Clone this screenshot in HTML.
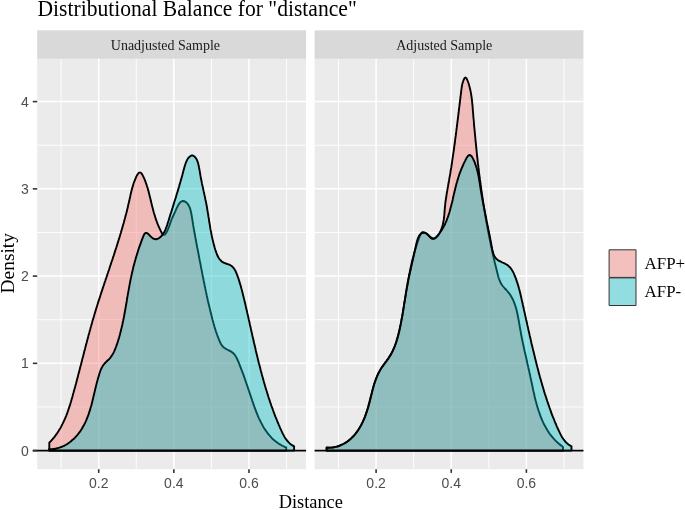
<!DOCTYPE html>
<html><head><meta charset="utf-8"><title>Distributional Balance for "distance"</title>
<style>
html,body{margin:0;padding:0;background:#fff}
svg{display:block}
text{font-family:"Liberation Serif",serif;fill:#000}
.ti{font-size:21.6px}
.st{font-size:14px;fill:#1a1a1a}
.ax{font-size:18.33px}
.lg{font-size:16.9px}
  .tk{font-family:"Liberation Sans",sans-serif;font-size:14px;fill:#4D4D4D}
</style></head><body>
<svg width="685" height="510" viewBox="0 0 685 510">
<rect width="685" height="510" fill="#fff"/>
<text transform="translate(37.5,16.4) scale(1,1.06)" class="ti">Distributional Balance for "distance"</text>
<rect x="37.20" y="58.85" width="268.85" height="410.35" fill="#EBEBEB"/>
<rect x="37.20" y="30.30" width="268.85" height="28.55" fill="#D9D9D9"/>
<line x1="37.20" x2="306.05" y1="406.98" y2="406.98" stroke="#fff" stroke-width="0.9"/>
<line x1="37.20" x2="306.05" y1="319.73" y2="319.73" stroke="#fff" stroke-width="0.9"/>
<line x1="37.20" x2="306.05" y1="232.48" y2="232.48" stroke="#fff" stroke-width="0.9"/>
<line x1="37.20" x2="306.05" y1="145.23" y2="145.23" stroke="#fff" stroke-width="0.9"/>
<line x1="61.13" x2="61.13" y1="58.85" y2="469.20" stroke="#fff" stroke-width="0.9"/>
<line x1="136.27" x2="136.27" y1="58.85" y2="469.20" stroke="#fff" stroke-width="0.9"/>
<line x1="211.41" x2="211.41" y1="58.85" y2="469.20" stroke="#fff" stroke-width="0.9"/>
<line x1="286.55" x2="286.55" y1="58.85" y2="469.20" stroke="#fff" stroke-width="0.9"/>
<line x1="37.20" x2="306.05" y1="450.60" y2="450.60" stroke="#fff" stroke-width="1.5"/>
<line x1="37.20" x2="306.05" y1="363.35" y2="363.35" stroke="#fff" stroke-width="1.5"/>
<line x1="37.20" x2="306.05" y1="276.10" y2="276.10" stroke="#fff" stroke-width="1.5"/>
<line x1="37.20" x2="306.05" y1="188.85" y2="188.85" stroke="#fff" stroke-width="1.5"/>
<line x1="37.20" x2="306.05" y1="101.60" y2="101.60" stroke="#fff" stroke-width="1.5"/>
<line x1="98.70" x2="98.70" y1="58.85" y2="469.20" stroke="#fff" stroke-width="1.5"/>
<line x1="98.70" x2="98.70" y1="469.20" y2="472.90" stroke="#333" stroke-width="1.6"/>
<text x="98.70" y="488.20" text-anchor="middle" class="tk">0.2</text>
<line x1="173.84" x2="173.84" y1="58.85" y2="469.20" stroke="#fff" stroke-width="1.5"/>
<line x1="173.84" x2="173.84" y1="469.20" y2="472.90" stroke="#333" stroke-width="1.6"/>
<text x="173.84" y="488.20" text-anchor="middle" class="tk">0.4</text>
<line x1="248.98" x2="248.98" y1="58.85" y2="469.20" stroke="#fff" stroke-width="1.5"/>
<line x1="248.98" x2="248.98" y1="469.20" y2="472.90" stroke="#333" stroke-width="1.6"/>
<text x="248.98" y="488.20" text-anchor="middle" class="tk">0.6</text>
<text x="110.8" y="49.7" class="st">Unadjusted Sample</text>
<path d="M49.3,450.6 L49.3,442.7 L50.5,441.5 L51.7,440.2 L52.8,438.9 L53.9,437.6 L54.9,436.3 L55.9,434.9 L56.9,433.6 L57.8,432.2 L58.7,430.8 L59.6,429.3 L60.5,427.9 L61.3,426.4 L62.0,424.9 L62.8,423.4 L63.5,421.9 L64.2,420.4 L64.9,418.9 L65.5,417.3 L66.2,415.8 L66.8,414.2 L67.4,412.6 L67.9,411.0 L68.5,409.4 L69.0,407.8 L69.6,406.2 L70.1,404.6 L70.6,403.0 L71.1,401.3 L71.5,399.7 L72.0,398.1 L72.5,396.4 L72.9,394.8 L73.4,393.1 L73.8,391.5 L74.3,389.9 L74.7,388.2 L75.2,386.6 L75.6,385.0 L76.1,383.3 L76.5,381.7 L76.9,380.0 L77.4,378.4 L77.8,376.8 L78.2,375.1 L78.6,373.5 L79.1,371.9 L79.5,370.2 L79.9,368.6 L80.3,366.9 L80.8,365.3 L81.2,363.7 L81.6,362.0 L82.0,360.4 L82.4,358.8 L82.9,357.1 L83.3,355.5 L83.7,353.9 L84.1,352.2 L84.5,350.6 L85.0,349.0 L85.4,347.3 L85.8,345.7 L86.2,344.1 L86.7,342.5 L87.1,340.8 L87.5,339.2 L88.0,337.6 L88.4,335.9 L88.8,334.3 L89.3,332.7 L89.7,331.1 L90.2,329.4 L90.6,327.8 L91.1,326.2 L91.5,324.6 L92.0,323.0 L92.4,321.3 L92.9,319.7 L93.4,318.1 L93.9,316.5 L94.3,314.9 L94.8,313.2 L95.3,311.6 L95.8,310.0 L96.3,308.4 L96.8,306.8 L97.3,305.2 L97.8,303.5 L98.3,301.9 L98.8,300.3 L99.4,298.7 L99.9,297.1 L100.4,295.5 L100.9,293.9 L101.4,292.3 L102.0,290.7 L102.5,289.1 L103.0,287.4 L103.6,285.8 L104.1,284.2 L104.6,282.6 L105.2,281.0 L105.7,279.4 L106.3,277.8 L106.8,276.2 L107.3,274.6 L107.9,273.0 L108.4,271.4 L109.0,269.8 L109.5,268.2 L110.0,266.5 L110.6,264.9 L111.1,263.3 L111.6,261.7 L112.2,260.1 L112.7,258.5 L113.2,256.9 L113.8,255.3 L114.3,253.7 L114.8,252.1 L115.3,250.5 L115.8,248.9 L116.4,247.2 L116.9,245.6 L117.4,244.0 L117.9,242.4 L118.4,240.8 L118.9,239.2 L119.4,237.6 L119.9,236.0 L120.4,234.3 L120.9,232.7 L121.3,231.1 L121.8,229.5 L122.3,227.9 L122.7,226.3 L123.2,224.6 L123.7,223.0 L124.1,221.4 L124.5,219.8 L125.0,218.2 L125.4,216.5 L125.8,214.9 L126.3,213.3 L126.7,211.7 L127.1,210.0 L127.5,208.4 L127.9,206.8 L128.2,205.1 L128.6,203.5 L129.0,201.9 L129.4,200.3 L129.7,198.6 L130.1,197.0 L130.4,195.3 L130.8,193.7 L131.2,192.0 L131.6,190.4 L132.0,188.7 L132.5,187.1 L133.0,185.4 L133.5,183.7 L134.1,182.0 L134.8,180.3 L135.5,178.6 L136.2,176.9 L137.0,175.3 L137.9,173.9 L138.8,172.9 L139.7,172.5 L140.6,172.6 L141.5,173.4 L142.3,174.6 L143.1,176.1 L143.9,177.9 L144.7,179.7 L145.4,181.4 L146.0,183.2 L146.6,184.9 L147.1,186.6 L147.7,188.3 L148.1,189.9 L148.6,191.5 L149.0,193.2 L149.4,194.8 L149.8,196.4 L150.2,198.0 L150.6,199.6 L150.9,201.1 L151.3,202.7 L151.7,204.3 L152.1,205.9 L152.5,207.5 L152.9,209.0 L153.3,210.6 L153.7,212.2 L154.2,213.8 L154.7,215.4 L155.2,217.1 L155.7,218.7 L156.3,220.3 L156.9,222.0 L157.5,223.6 L158.2,225.3 L158.9,227.0 L159.7,228.7 L160.5,230.4 L161.3,232.0 L162.1,233.5 L163.0,234.5 L163.9,234.9 L164.8,234.6 L165.7,233.6 L166.6,232.2 L167.4,230.5 L168.2,228.7 L168.9,226.9 L169.5,225.2 L170.1,223.6 L170.7,222.0 L171.2,220.4 L171.8,219.0 L172.4,217.6 L173.0,216.2 L173.7,214.9 L174.3,213.4 L175.1,211.8 L175.8,210.1 L176.7,208.2 L177.6,206.3 L178.5,204.6 L179.6,203.1 L180.7,201.9 L181.9,201.2 L183.2,201.0 L184.5,201.3 L185.8,202.1 L186.9,203.0 L187.8,204.1 L188.7,205.4 L189.4,206.8 L190.0,208.3 L190.5,210.0 L190.9,211.7 L191.3,213.4 L191.6,215.2 L191.9,217.0 L192.2,218.8 L192.5,220.6 L192.8,222.4 L193.0,224.2 L193.3,225.9 L193.6,227.6 L193.9,229.3 L194.2,231.0 L194.5,232.7 L194.8,234.3 L195.1,236.0 L195.4,237.6 L195.7,239.2 L196.0,240.9 L196.3,242.5 L196.6,244.1 L196.9,245.7 L197.2,247.4 L197.6,249.0 L197.9,250.6 L198.2,252.2 L198.5,253.9 L198.8,255.5 L199.1,257.1 L199.4,258.8 L199.7,260.4 L200.1,262.1 L200.4,263.7 L200.7,265.4 L201.0,267.0 L201.3,268.7 L201.7,270.4 L202.0,272.0 L202.3,273.7 L202.6,275.4 L203.0,277.0 L203.3,278.7 L203.6,280.4 L204.0,282.0 L204.3,283.7 L204.6,285.4 L205.0,287.0 L205.3,288.7 L205.7,290.4 L206.0,292.0 L206.4,293.7 L206.7,295.4 L207.1,297.0 L207.5,298.7 L207.8,300.4 L208.2,302.0 L208.6,303.7 L209.0,305.3 L209.4,307.0 L209.8,308.6 L210.2,310.3 L210.6,311.9 L211.0,313.5 L211.4,315.2 L211.8,316.8 L212.2,318.4 L212.6,320.0 L213.1,321.7 L213.5,323.3 L214.0,324.9 L214.4,326.5 L214.9,328.1 L215.4,329.7 L215.9,331.3 L216.5,332.9 L217.0,334.5 L217.6,336.1 L218.2,337.7 L218.9,339.3 L219.5,340.9 L220.2,342.5 L221.0,344.0 L221.9,345.4 L222.9,346.7 L224.2,347.8 L225.6,348.7 L227.1,349.5 L228.7,350.3 L230.3,351.1 L231.7,351.9 L233.0,353.0 L234.2,354.2 L235.2,355.5 L236.1,356.9 L236.9,358.4 L237.6,360.0 L238.3,361.6 L239.0,363.2 L239.6,364.8 L240.2,366.4 L240.8,367.9 L241.4,369.5 L242.0,371.1 L242.6,372.7 L243.2,374.2 L243.8,375.8 L244.3,377.4 L244.9,378.9 L245.4,380.5 L246.0,382.1 L246.5,383.7 L247.0,385.2 L247.6,386.8 L248.1,388.4 L248.6,389.9 L249.2,391.5 L249.7,393.1 L250.2,394.7 L250.8,396.3 L251.3,397.9 L251.9,399.5 L252.4,401.1 L253.0,402.7 L253.5,404.4 L254.1,406.0 L254.7,407.6 L255.3,409.2 L255.9,410.9 L256.5,412.5 L257.2,414.1 L257.8,415.7 L258.5,417.3 L259.2,418.8 L260.0,420.4 L260.7,421.9 L261.5,423.4 L262.3,424.9 L263.1,426.4 L264.0,427.9 L264.9,429.3 L265.8,430.7 L266.8,432.0 L267.8,433.4 L268.8,434.7 L269.9,435.9 L271.0,437.1 L272.1,438.3 L273.3,439.5 L274.5,440.5 L275.8,441.6 L277.2,442.6 L278.5,443.5 L280.0,444.4 L281.5,445.3 L283.0,446.0 L284.6,446.8 L286.2,447.4 L286.2,450.6 Z" fill="#F8766D" fill-opacity="0.4" stroke="#000" stroke-width="1.9" stroke-linejoin="round"/>
<path d="M49.1,450.6 L49.1,449.1 L50.9,449.1 L52.7,449.0 L54.4,448.8 L56.1,448.5 L57.7,448.1 L59.4,447.7 L60.9,447.1 L62.5,446.5 L64.0,445.8 L65.5,445.0 L66.9,444.2 L68.3,443.2 L69.7,442.3 L71.0,441.2 L72.3,440.1 L73.6,439.0 L74.8,437.8 L75.9,436.6 L77.1,435.3 L78.1,434.0 L79.2,432.6 L80.2,431.3 L81.1,429.9 L82.0,428.5 L82.8,427.0 L83.7,425.6 L84.4,424.1 L85.2,422.6 L85.9,421.1 L86.5,419.5 L87.2,418.0 L87.8,416.4 L88.4,414.9 L88.9,413.3 L89.4,411.7 L90.0,410.1 L90.4,408.4 L90.9,406.8 L91.4,405.2 L91.8,403.5 L92.2,401.9 L92.6,400.2 L93.0,398.6 L93.4,396.9 L93.8,395.2 L94.2,393.6 L94.6,391.9 L95.0,390.2 L95.4,388.6 L95.8,386.9 L96.2,385.3 L96.6,383.6 L97.0,382.0 L97.5,380.3 L97.9,378.7 L98.4,377.1 L98.9,375.4 L99.4,373.8 L99.9,372.2 L100.4,370.7 L101.1,369.1 L101.8,367.6 L102.6,366.2 L103.5,364.8 L104.6,363.5 L105.9,362.2 L107.1,361.0 L108.4,359.8 L109.6,358.6 L110.6,357.3 L111.6,355.9 L112.5,354.5 L113.3,353.1 L114.1,351.6 L114.7,350.1 L115.4,348.5 L116.0,347.0 L116.5,345.4 L117.1,343.9 L117.6,342.3 L118.1,340.7 L118.6,339.1 L119.1,337.5 L119.5,335.9 L120.0,334.2 L120.4,332.6 L120.8,331.0 L121.2,329.3 L121.6,327.7 L122.0,326.0 L122.4,324.4 L122.7,322.7 L123.1,321.0 L123.4,319.4 L123.8,317.7 L124.1,316.0 L124.4,314.3 L124.7,312.7 L125.0,311.0 L125.3,309.3 L125.6,307.6 L125.9,305.9 L126.2,304.3 L126.5,302.6 L126.8,300.9 L127.0,299.2 L127.3,297.5 L127.6,295.9 L127.9,294.2 L128.2,292.5 L128.5,290.9 L128.8,289.2 L129.1,287.5 L129.4,285.9 L129.7,284.2 L130.0,282.6 L130.3,281.0 L130.6,279.3 L131.0,277.7 L131.3,276.1 L131.7,274.5 L132.0,272.9 L132.4,271.3 L132.8,269.7 L133.1,268.1 L133.5,266.5 L134.0,264.9 L134.4,263.3 L134.8,261.7 L135.3,260.0 L135.7,258.4 L136.2,256.8 L136.7,255.2 L137.2,253.6 L137.7,252.0 L138.2,250.4 L138.7,248.7 L139.3,247.1 L139.9,245.4 L140.5,243.8 L141.1,242.1 L141.7,240.4 L142.3,238.8 L143.0,237.1 L143.7,235.4 L144.4,234.0 L145.2,233.1 L146.2,232.8 L147.3,233.2 L148.6,234.3 L149.9,235.7 L151.4,237.1 L152.8,238.3 L154.3,239.0 L155.8,239.2 L157.2,239.0 L158.6,238.4 L159.8,237.5 L161.0,236.5 L162.0,235.4 L163.0,234.1 L163.9,232.7 L164.7,231.2 L165.4,229.6 L166.0,228.0 L166.7,226.3 L167.3,224.6 L167.8,222.8 L168.4,221.1 L168.9,219.4 L169.4,217.7 L169.9,216.1 L170.4,214.4 L171.0,212.8 L171.5,211.2 L172.0,209.6 L172.5,208.0 L173.0,206.4 L173.5,204.9 L173.9,203.3 L174.4,201.8 L174.9,200.2 L175.4,198.7 L175.9,197.1 L176.3,195.6 L176.8,194.0 L177.3,192.5 L177.8,190.9 L178.2,189.3 L178.7,187.8 L179.2,186.2 L179.6,184.6 L180.1,182.9 L180.6,181.3 L181.1,179.6 L181.5,177.9 L182.0,176.2 L182.5,174.5 L182.9,172.7 L183.4,170.9 L183.9,169.1 L184.4,167.3 L184.9,165.5 L185.5,163.8 L186.1,162.1 L186.8,160.6 L187.5,159.2 L188.4,157.9 L189.4,156.9 L190.5,156.0 L191.7,155.4 L192.9,155.5 L194.1,156.2 L195.2,157.2 L196.0,158.3 L196.8,159.7 L197.4,161.2 L198.0,162.8 L198.4,164.5 L198.8,166.2 L199.1,168.0 L199.5,169.9 L199.8,171.7 L200.1,173.5 L200.4,175.3 L200.7,177.1 L201.0,178.8 L201.4,180.5 L201.7,182.2 L202.0,183.9 L202.4,185.5 L202.8,187.1 L203.1,188.8 L203.5,190.4 L203.8,192.0 L204.2,193.6 L204.5,195.2 L204.9,196.8 L205.2,198.4 L205.5,200.0 L205.9,201.6 L206.2,203.2 L206.5,204.8 L206.8,206.5 L207.1,208.1 L207.3,209.8 L207.6,211.4 L207.9,213.1 L208.2,214.7 L208.4,216.4 L208.7,218.1 L209.0,219.8 L209.2,221.5 L209.5,223.1 L209.8,224.8 L210.1,226.5 L210.3,228.2 L210.6,229.9 L211.0,231.6 L211.3,233.3 L211.6,234.9 L211.9,236.6 L212.3,238.3 L212.7,239.9 L213.1,241.6 L213.5,243.2 L213.9,244.9 L214.4,246.5 L214.8,248.1 L215.3,249.8 L215.9,251.4 L216.4,252.9 L217.0,254.5 L217.7,256.0 L218.4,257.5 L219.3,258.8 L220.3,260.0 L221.4,261.2 L222.7,262.1 L224.2,262.9 L225.9,263.5 L227.6,264.1 L229.3,264.7 L230.9,265.5 L232.2,266.5 L233.3,267.6 L234.3,269.0 L235.2,270.4 L235.9,271.9 L236.6,273.5 L237.2,275.1 L237.8,276.7 L238.4,278.4 L238.9,280.0 L239.4,281.6 L239.9,283.3 L240.4,284.9 L240.9,286.5 L241.3,288.2 L241.8,289.8 L242.2,291.4 L242.6,293.0 L243.0,294.7 L243.4,296.3 L243.8,297.9 L244.2,299.6 L244.6,301.2 L245.0,302.8 L245.4,304.5 L245.7,306.1 L246.1,307.8 L246.5,309.4 L246.9,311.0 L247.2,312.7 L247.6,314.3 L248.0,316.0 L248.4,317.6 L248.7,319.2 L249.1,320.9 L249.5,322.5 L249.8,324.2 L250.2,325.8 L250.6,327.5 L250.9,329.1 L251.3,330.8 L251.7,332.4 L252.1,334.1 L252.4,335.7 L252.8,337.4 L253.2,339.0 L253.6,340.7 L253.9,342.3 L254.3,344.0 L254.7,345.6 L255.1,347.2 L255.5,348.9 L255.8,350.5 L256.2,352.2 L256.6,353.8 L257.0,355.5 L257.4,357.1 L257.8,358.8 L258.2,360.4 L258.6,362.0 L259.0,363.7 L259.5,365.3 L259.9,367.0 L260.3,368.6 L260.7,370.2 L261.2,371.9 L261.6,373.5 L262.0,375.1 L262.5,376.7 L262.9,378.4 L263.4,380.0 L263.8,381.6 L264.3,383.2 L264.8,384.9 L265.2,386.5 L265.7,388.1 L266.2,389.7 L266.7,391.3 L267.2,392.9 L267.7,394.6 L268.2,396.2 L268.7,397.8 L269.3,399.4 L269.8,401.0 L270.3,402.6 L270.9,404.2 L271.4,405.8 L272.0,407.3 L272.6,408.9 L273.1,410.5 L273.7,412.1 L274.3,413.7 L274.9,415.3 L275.5,416.8 L276.2,418.4 L276.8,420.0 L277.4,421.5 L278.1,423.1 L278.7,424.7 L279.4,426.2 L280.1,427.8 L280.8,429.3 L281.5,430.9 L282.2,432.4 L282.9,433.9 L283.7,435.4 L284.5,436.9 L285.4,438.3 L286.4,439.7 L287.4,441.0 L288.5,442.2 L289.7,443.4 L291.1,444.4 L292.5,445.4 L294.1,446.3 L294.1,450.6 Z" fill="#00BFC4" fill-opacity="0.4" stroke="#000" stroke-width="1.9" stroke-linejoin="round"/>
<line x1="32.80" x2="306.05" y1="450.60" y2="450.60" stroke="#000" stroke-width="1.9"/>
<rect x="314.60" y="58.85" width="268.85" height="410.35" fill="#EBEBEB"/>
<rect x="314.60" y="30.30" width="268.85" height="28.55" fill="#D9D9D9"/>
<line x1="314.60" x2="583.45" y1="406.98" y2="406.98" stroke="#fff" stroke-width="0.9"/>
<line x1="314.60" x2="583.45" y1="319.73" y2="319.73" stroke="#fff" stroke-width="0.9"/>
<line x1="314.60" x2="583.45" y1="232.48" y2="232.48" stroke="#fff" stroke-width="0.9"/>
<line x1="314.60" x2="583.45" y1="145.23" y2="145.23" stroke="#fff" stroke-width="0.9"/>
<line x1="338.53" x2="338.53" y1="58.85" y2="469.20" stroke="#fff" stroke-width="0.9"/>
<line x1="413.67" x2="413.67" y1="58.85" y2="469.20" stroke="#fff" stroke-width="0.9"/>
<line x1="488.81" x2="488.81" y1="58.85" y2="469.20" stroke="#fff" stroke-width="0.9"/>
<line x1="563.95" x2="563.95" y1="58.85" y2="469.20" stroke="#fff" stroke-width="0.9"/>
<line x1="314.60" x2="583.45" y1="450.60" y2="450.60" stroke="#fff" stroke-width="1.5"/>
<line x1="314.60" x2="583.45" y1="363.35" y2="363.35" stroke="#fff" stroke-width="1.5"/>
<line x1="314.60" x2="583.45" y1="276.10" y2="276.10" stroke="#fff" stroke-width="1.5"/>
<line x1="314.60" x2="583.45" y1="188.85" y2="188.85" stroke="#fff" stroke-width="1.5"/>
<line x1="314.60" x2="583.45" y1="101.60" y2="101.60" stroke="#fff" stroke-width="1.5"/>
<line x1="376.10" x2="376.10" y1="58.85" y2="469.20" stroke="#fff" stroke-width="1.5"/>
<line x1="376.10" x2="376.10" y1="469.20" y2="472.90" stroke="#333" stroke-width="1.6"/>
<text x="376.10" y="488.20" text-anchor="middle" class="tk">0.2</text>
<line x1="451.24" x2="451.24" y1="58.85" y2="469.20" stroke="#fff" stroke-width="1.5"/>
<line x1="451.24" x2="451.24" y1="469.20" y2="472.90" stroke="#333" stroke-width="1.6"/>
<text x="451.24" y="488.20" text-anchor="middle" class="tk">0.4</text>
<line x1="526.38" x2="526.38" y1="58.85" y2="469.20" stroke="#fff" stroke-width="1.5"/>
<line x1="526.38" x2="526.38" y1="469.20" y2="472.90" stroke="#333" stroke-width="1.6"/>
<text x="526.38" y="488.20" text-anchor="middle" class="tk">0.6</text>
<text x="396.2" y="49.7" class="st">Adjusted Sample</text>
<path d="M326.8,450.6 L326.8,447.5 L328.9,447.7 L331.0,447.6 L333.0,447.5 L335.0,447.1 L337.0,446.6 L339.0,446.0 L340.9,445.2 L342.7,444.4 L344.5,443.4 L346.3,442.3 L348.0,441.1 L349.6,439.8 L351.2,438.4 L352.6,437.0 L354.1,435.5 L355.4,434.0 L356.6,432.4 L357.8,430.7 L358.9,429.0 L360.0,427.3 L361.0,425.5 L361.9,423.7 L362.8,421.9 L363.6,420.0 L364.4,418.1 L365.1,416.2 L365.8,414.3 L366.4,412.3 L367.1,410.3 L367.7,408.3 L368.3,406.3 L368.8,404.3 L369.4,402.3 L369.9,400.3 L370.4,398.3 L370.9,396.2 L371.5,394.2 L372.0,392.2 L372.5,390.2 L373.1,388.3 L373.6,386.3 L374.2,384.3 L374.9,382.4 L375.5,380.5 L376.2,378.6 L377.0,376.7 L377.8,374.8 L378.7,373.0 L379.6,371.2 L380.6,369.4 L381.6,367.7 L382.8,366.0 L384.0,364.3 L385.2,362.6 L386.4,361.0 L387.6,359.3 L388.8,357.6 L389.9,355.8 L391.0,354.1 L392.0,352.3 L392.9,350.5 L393.7,348.6 L394.5,346.8 L395.3,344.9 L396.0,343.0 L396.7,341.0 L397.3,339.1 L397.8,337.1 L398.4,335.1 L398.9,333.2 L399.4,331.1 L399.8,329.1 L400.2,327.1 L400.6,325.1 L401.0,323.0 L401.4,321.0 L401.7,319.0 L402.1,316.9 L402.4,314.9 L402.8,312.9 L403.1,310.8 L403.4,308.8 L403.8,306.8 L404.1,304.7 L404.4,302.7 L404.7,300.7 L405.1,298.7 L405.4,296.6 L405.7,294.6 L406.0,292.6 L406.4,290.6 L406.7,288.5 L407.0,286.5 L407.4,284.5 L407.7,282.5 L408.1,280.5 L408.5,278.5 L408.9,276.4 L409.2,274.4 L409.7,272.4 L410.1,270.4 L410.5,268.4 L410.9,266.4 L411.4,264.4 L411.8,262.4 L412.3,260.4 L412.8,258.4 L413.4,256.4 L413.9,254.4 L414.4,252.4 L415.0,250.4 L415.6,248.4 L416.2,246.5 L416.9,244.5 L417.5,242.5 L418.2,240.5 L418.9,238.5 L419.7,236.5 L420.4,234.6 L421.4,233.0 L422.6,232.1 L424.2,232.4 L426.0,233.4 L427.9,234.8 L429.6,236.3 L431.2,237.6 L432.8,238.5 L434.3,238.7 L435.8,238.1 L437.1,236.9 L438.4,235.2 L439.6,233.1 L440.6,230.9 L441.5,228.6 L442.3,226.3 L442.9,224.2 L443.3,222.1 L443.7,220.0 L444.0,218.0 L444.2,216.1 L444.4,214.1 L444.5,212.2 L444.7,210.3 L444.8,208.4 L445.0,206.4 L445.2,204.5 L445.4,202.5 L445.7,200.5 L446.0,198.5 L446.3,196.5 L446.6,194.5 L446.9,192.5 L447.3,190.4 L447.6,188.4 L448.0,186.4 L448.3,184.3 L448.7,182.3 L449.1,180.2 L449.4,178.1 L449.8,176.1 L450.2,174.0 L450.5,172.0 L450.8,169.9 L451.2,167.9 L451.5,165.8 L451.8,163.8 L452.1,161.8 L452.4,159.7 L452.7,157.7 L453.0,155.6 L453.3,153.6 L453.6,151.6 L453.9,149.6 L454.2,147.5 L454.4,145.5 L454.7,143.5 L455.0,141.5 L455.2,139.4 L455.5,137.4 L455.8,135.4 L456.0,133.4 L456.3,131.4 L456.5,129.4 L456.8,127.4 L457.0,125.4 L457.3,123.3 L457.5,121.3 L457.8,119.3 L458.0,117.3 L458.3,115.3 L458.5,113.2 L458.8,111.2 L459.0,109.2 L459.3,107.1 L459.5,105.0 L459.8,103.0 L460.0,100.9 L460.3,98.8 L460.5,96.7 L460.8,94.6 L461.1,92.5 L461.3,90.4 L461.6,88.2 L461.9,86.1 L462.3,84.0 L462.9,82.0 L463.6,80.0 L464.4,78.3 L465.4,77.5 L466.3,78.0 L467.1,79.6 L467.9,81.5 L468.6,83.4 L469.2,85.4 L469.7,87.4 L470.2,89.4 L470.6,91.4 L471.0,93.4 L471.3,95.4 L471.6,97.5 L471.9,99.5 L472.1,101.6 L472.3,103.6 L472.5,105.7 L472.7,107.8 L472.8,109.8 L473.0,111.9 L473.2,114.0 L473.3,116.0 L473.5,118.1 L473.7,120.2 L473.9,122.2 L474.0,124.3 L474.2,126.3 L474.4,128.4 L474.6,130.4 L474.8,132.5 L475.0,134.5 L475.2,136.6 L475.4,138.6 L475.5,140.7 L475.8,142.7 L476.0,144.8 L476.2,146.8 L476.4,148.9 L476.6,150.9 L476.8,153.0 L477.0,155.0 L477.2,157.0 L477.5,159.1 L477.7,161.1 L477.9,163.2 L478.2,165.2 L478.4,167.2 L478.7,169.3 L478.9,171.3 L479.1,173.3 L479.4,175.4 L479.7,177.4 L479.9,179.4 L480.2,181.5 L480.5,183.5 L480.7,185.5 L481.0,187.5 L481.3,189.6 L481.6,191.6 L481.9,193.6 L482.2,195.7 L482.5,197.7 L482.8,199.7 L483.1,201.7 L483.4,203.8 L483.7,205.8 L484.0,207.8 L484.4,209.8 L484.7,211.8 L485.0,213.9 L485.4,215.9 L485.7,217.9 L486.1,219.9 L486.4,222.0 L486.8,224.0 L487.2,226.0 L487.5,228.0 L487.9,230.0 L488.3,232.0 L488.7,234.1 L489.1,236.1 L489.5,238.1 L489.9,240.1 L490.3,242.1 L490.7,244.1 L491.1,246.2 L491.6,248.2 L492.0,250.2 L492.4,252.2 L492.9,254.2 L493.3,256.2 L493.8,258.2 L494.3,260.2 L494.7,262.2 L495.2,264.2 L495.7,266.3 L496.2,268.3 L496.7,270.3 L497.2,272.3 L497.7,274.3 L498.2,276.3 L498.8,278.2 L499.5,280.2 L500.3,282.0 L501.2,283.8 L502.3,285.5 L503.6,287.0 L504.9,288.5 L506.4,290.0 L507.7,291.5 L509.0,293.1 L510.2,294.8 L511.2,296.5 L512.2,298.2 L513.1,300.0 L513.9,301.9 L514.6,303.7 L515.3,305.7 L515.9,307.6 L516.4,309.6 L516.9,311.6 L517.4,313.7 L517.8,315.7 L518.2,317.8 L518.6,319.9 L519.0,321.9 L519.3,324.0 L519.7,326.1 L520.0,328.1 L520.4,330.2 L520.8,332.2 L521.1,334.3 L521.5,336.3 L521.9,338.3 L522.3,340.3 L522.7,342.3 L523.2,344.3 L523.6,346.2 L524.0,348.2 L524.4,350.2 L524.9,352.2 L525.3,354.1 L525.8,356.1 L526.2,358.1 L526.7,360.0 L527.1,362.0 L527.5,364.0 L528.0,366.0 L528.4,367.9 L528.9,369.9 L529.3,371.9 L529.8,373.9 L530.2,375.9 L530.6,378.0 L531.1,380.0 L531.5,382.0 L531.9,384.1 L532.4,386.1 L532.8,388.2 L533.2,390.2 L533.7,392.3 L534.2,394.3 L534.6,396.4 L535.1,398.4 L535.6,400.5 L536.2,402.5 L536.7,404.5 L537.3,406.5 L537.9,408.5 L538.5,410.5 L539.2,412.4 L539.9,414.4 L540.6,416.3 L541.3,418.2 L542.1,420.1 L542.9,421.9 L543.8,423.8 L544.7,425.6 L545.7,427.3 L546.7,429.1 L547.7,430.8 L548.8,432.4 L549.9,434.1 L551.2,435.7 L552.4,437.2 L553.7,438.7 L555.1,440.2 L556.5,441.6 L558.1,443.0 L559.6,444.4 L561.3,445.6 L563.0,446.9 L563.0,450.6 Z" fill="#F8766D" fill-opacity="0.4" stroke="#000" stroke-width="1.9" stroke-linejoin="round"/>
<path d="M326.5,450.6 L326.5,447.7 L328.4,447.7 L330.2,447.6 L332.0,447.5 L333.8,447.2 L335.5,446.9 L337.1,446.5 L338.8,446.0 L340.3,445.4 L341.8,444.7 L343.3,444.0 L344.7,443.2 L346.1,442.4 L347.4,441.5 L348.7,440.5 L350.0,439.5 L351.2,438.4 L352.3,437.2 L353.5,436.1 L354.6,434.8 L355.6,433.5 L356.6,432.2 L357.6,430.9 L358.5,429.5 L359.4,428.0 L360.3,426.6 L361.1,425.1 L361.9,423.5 L362.7,422.0 L363.4,420.4 L364.1,418.8 L364.8,417.2 L365.4,415.6 L366.0,414.0 L366.6,412.4 L367.1,410.7 L367.7,409.1 L368.2,407.4 L368.6,405.8 L369.1,404.1 L369.5,402.5 L369.9,400.8 L370.3,399.2 L370.7,397.5 L371.1,395.9 L371.5,394.3 L371.9,392.6 L372.3,391.0 L372.7,389.4 L373.1,387.8 L373.6,386.2 L374.0,384.6 L374.5,383.0 L375.0,381.5 L375.6,379.9 L376.2,378.4 L376.8,376.8 L377.4,375.3 L378.1,373.8 L378.9,372.3 L379.7,370.9 L380.5,369.4 L381.4,368.0 L382.4,366.6 L383.4,365.2 L384.5,363.8 L385.5,362.4 L386.6,361.0 L387.6,359.6 L388.6,358.2 L389.5,356.8 L390.4,355.4 L391.3,353.9 L392.0,352.4 L392.8,350.9 L393.4,349.4 L394.1,347.9 L394.7,346.4 L395.2,344.8 L395.8,343.3 L396.3,341.7 L396.7,340.1 L397.2,338.5 L397.7,336.9 L398.1,335.3 L398.5,333.7 L398.9,332.0 L399.3,330.4 L399.7,328.7 L400.1,327.1 L400.4,325.4 L400.8,323.7 L401.1,322.1 L401.4,320.4 L401.7,318.7 L402.1,317.0 L402.4,315.3 L402.7,313.7 L402.9,312.0 L403.2,310.3 L403.5,308.6 L403.8,306.9 L404.0,305.2 L404.3,303.5 L404.6,301.9 L404.9,300.2 L405.1,298.5 L405.4,296.8 L405.7,295.2 L405.9,293.5 L406.2,291.9 L406.5,290.2 L406.8,288.6 L407.1,287.0 L407.4,285.3 L407.7,283.7 L408.0,282.1 L408.3,280.5 L408.6,278.9 L408.9,277.3 L409.3,275.8 L409.6,274.2 L410.0,272.6 L410.3,271.0 L410.7,269.4 L411.0,267.8 L411.4,266.1 L411.7,264.5 L412.1,262.9 L412.5,261.2 L412.9,259.5 L413.2,257.8 L413.6,256.1 L414.0,254.4 L414.4,252.6 L414.8,250.8 L415.2,249.0 L415.6,247.2 L416.0,245.3 L416.4,243.5 L416.9,241.6 L417.4,239.9 L417.9,238.3 L418.6,236.8 L419.3,235.5 L420.2,234.4 L421.2,233.6 L422.3,233.0 L423.6,232.7 L425.0,232.9 L426.5,233.5 L427.9,234.8 L429.3,236.4 L430.6,237.8 L431.9,238.7 L433.2,238.8 L434.4,238.4 L435.6,237.5 L436.8,236.4 L437.9,235.2 L438.9,234.0 L439.9,232.7 L440.9,231.3 L441.8,230.0 L442.6,228.6 L443.4,227.1 L444.2,225.7 L445.0,224.2 L445.6,222.7 L446.3,221.1 L446.9,219.6 L447.5,218.0 L448.1,216.4 L448.6,214.7 L449.2,213.1 L449.7,211.4 L450.1,209.8 L450.6,208.1 L451.0,206.4 L451.4,204.7 L451.9,203.0 L452.3,201.4 L452.7,199.7 L453.0,198.0 L453.4,196.3 L453.8,194.6 L454.2,193.0 L454.6,191.3 L455.0,189.7 L455.4,188.0 L455.8,186.4 L456.2,184.8 L456.6,183.3 L457.1,181.7 L457.5,180.1 L458.0,178.6 L458.5,177.0 L459.0,175.5 L459.5,173.9 L460.1,172.4 L460.7,170.8 L461.3,169.2 L462.0,167.6 L462.7,166.0 L463.4,164.4 L464.2,162.7 L465.0,161.1 L465.8,159.4 L466.7,157.8 L467.6,156.4 L468.5,155.4 L469.4,155.0 L470.4,155.2 L471.3,155.9 L472.2,157.1 L473.0,158.6 L473.8,160.4 L474.6,162.1 L475.2,163.9 L475.8,165.6 L476.4,167.4 L476.9,169.1 L477.3,170.8 L477.8,172.5 L478.1,174.2 L478.5,175.8 L478.8,177.5 L479.1,179.1 L479.3,180.8 L479.6,182.4 L479.9,184.1 L480.1,185.7 L480.4,187.3 L480.6,189.0 L480.9,190.6 L481.2,192.2 L481.4,193.9 L481.7,195.5 L482.0,197.1 L482.3,198.8 L482.6,200.4 L482.9,202.0 L483.2,203.6 L483.5,205.3 L483.9,206.9 L484.2,208.6 L484.5,210.2 L484.8,211.8 L485.2,213.5 L485.5,215.1 L485.8,216.8 L486.2,218.4 L486.5,220.1 L486.8,221.7 L487.2,223.4 L487.5,225.0 L487.9,226.7 L488.2,228.4 L488.5,230.0 L488.9,231.7 L489.2,233.4 L489.5,235.1 L489.9,236.7 L490.2,238.4 L490.5,240.1 L490.9,241.8 L491.2,243.6 L491.5,245.3 L491.8,247.0 L492.1,248.7 L492.5,250.4 L492.9,252.1 L493.4,253.7 L493.9,255.2 L494.7,256.6 L495.5,257.9 L496.6,259.1 L497.8,260.1 L499.2,260.9 L500.8,261.7 L502.4,262.5 L504.0,263.2 L505.6,264.0 L507.1,264.8 L508.4,265.8 L509.6,267.0 L510.7,268.2 L511.6,269.5 L512.5,270.9 L513.3,272.4 L514.0,273.9 L514.6,275.5 L515.3,277.0 L515.9,278.6 L516.4,280.2 L517.0,281.8 L517.5,283.4 L518.0,285.0 L518.5,286.6 L518.9,288.2 L519.4,289.8 L519.8,291.5 L520.2,293.1 L520.6,294.8 L521.0,296.4 L521.4,298.1 L521.7,299.7 L522.1,301.4 L522.5,303.0 L522.8,304.7 L523.2,306.3 L523.6,308.0 L523.9,309.6 L524.3,311.3 L524.7,312.9 L525.0,314.6 L525.4,316.2 L525.8,317.9 L526.1,319.5 L526.5,321.1 L526.9,322.8 L527.2,324.4 L527.6,326.1 L528.0,327.7 L528.3,329.4 L528.7,331.0 L529.1,332.7 L529.5,334.3 L529.8,336.0 L530.2,337.6 L530.6,339.2 L531.0,340.9 L531.3,342.5 L531.7,344.2 L532.1,345.8 L532.5,347.4 L532.9,349.1 L533.3,350.7 L533.7,352.3 L534.1,354.0 L534.5,355.6 L534.9,357.3 L535.3,358.9 L535.7,360.5 L536.1,362.2 L536.5,363.8 L536.9,365.4 L537.3,367.0 L537.8,368.7 L538.2,370.3 L538.6,371.9 L539.0,373.6 L539.5,375.2 L539.9,376.8 L540.4,378.4 L540.8,380.1 L541.3,381.7 L541.8,383.3 L542.2,384.9 L542.7,386.5 L543.2,388.2 L543.7,389.8 L544.1,391.4 L544.6,393.0 L545.1,394.6 L545.7,396.2 L546.2,397.8 L546.7,399.4 L547.2,401.0 L547.8,402.6 L548.3,404.2 L548.9,405.8 L549.4,407.4 L550.0,409.0 L550.6,410.6 L551.1,412.2 L551.7,413.8 L552.3,415.3 L552.9,416.9 L553.6,418.5 L554.2,420.0 L554.8,421.6 L555.5,423.2 L556.1,424.7 L556.8,426.3 L557.5,427.8 L558.2,429.4 L558.9,430.9 L559.6,432.4 L560.3,433.9 L561.1,435.4 L562.0,436.9 L562.8,438.3 L563.8,439.7 L564.8,441.0 L565.9,442.2 L567.2,443.4 L568.5,444.4 L569.9,445.4 L571.5,446.3 L571.5,450.6 Z" fill="#00BFC4" fill-opacity="0.4" stroke="#000" stroke-width="1.9" stroke-linejoin="round"/>
<line x1="314.60" x2="583.45" y1="450.60" y2="450.60" stroke="#000" stroke-width="1.9"/>
<line x1="32.8" x2="37.2" y1="450.60" y2="450.60" stroke="#333" stroke-width="1.6"/>
<text x="28.9" y="455.60" text-anchor="end" class="tk">0</text>
<line x1="32.8" x2="37.2" y1="363.35" y2="363.35" stroke="#333" stroke-width="1.6"/>
<text x="28.9" y="368.35" text-anchor="end" class="tk">1</text>
<line x1="32.8" x2="37.2" y1="276.10" y2="276.10" stroke="#333" stroke-width="1.6"/>
<text x="28.9" y="281.10" text-anchor="end" class="tk">2</text>
<line x1="32.8" x2="37.2" y1="188.85" y2="188.85" stroke="#333" stroke-width="1.6"/>
<text x="28.9" y="193.85" text-anchor="end" class="tk">3</text>
<line x1="32.8" x2="37.2" y1="101.60" y2="101.60" stroke="#333" stroke-width="1.6"/>
<text x="28.9" y="106.60" text-anchor="end" class="tk">4</text>
<text transform="translate(13.8,293.4) rotate(-90)" class="ax" style="font-size:19.4px">Density</text>
<text x="278.7" y="508.2" class="ax">Distance</text>
<rect x="609.1" y="249.8" width="26.9" height="27.6" fill="#F2F2F2"/><rect x="609.1" y="249.8" width="26.9" height="27.6" fill="#F8766D" fill-opacity="0.4" stroke="#333" stroke-width="1" stroke-linejoin="round"/>
<rect x="609.1" y="277.9" width="26.9" height="27.6" fill="#F2F2F2"/><rect x="609.1" y="277.9" width="26.9" height="27.6" fill="#00BFC4" fill-opacity="0.4" stroke="#333" stroke-width="1" stroke-linejoin="round"/>
<text x="644.6" y="269" class="lg">AFP+</text>
<text x="644.6" y="297.2" class="lg">AFP-</text>
</svg>
</body></html>
